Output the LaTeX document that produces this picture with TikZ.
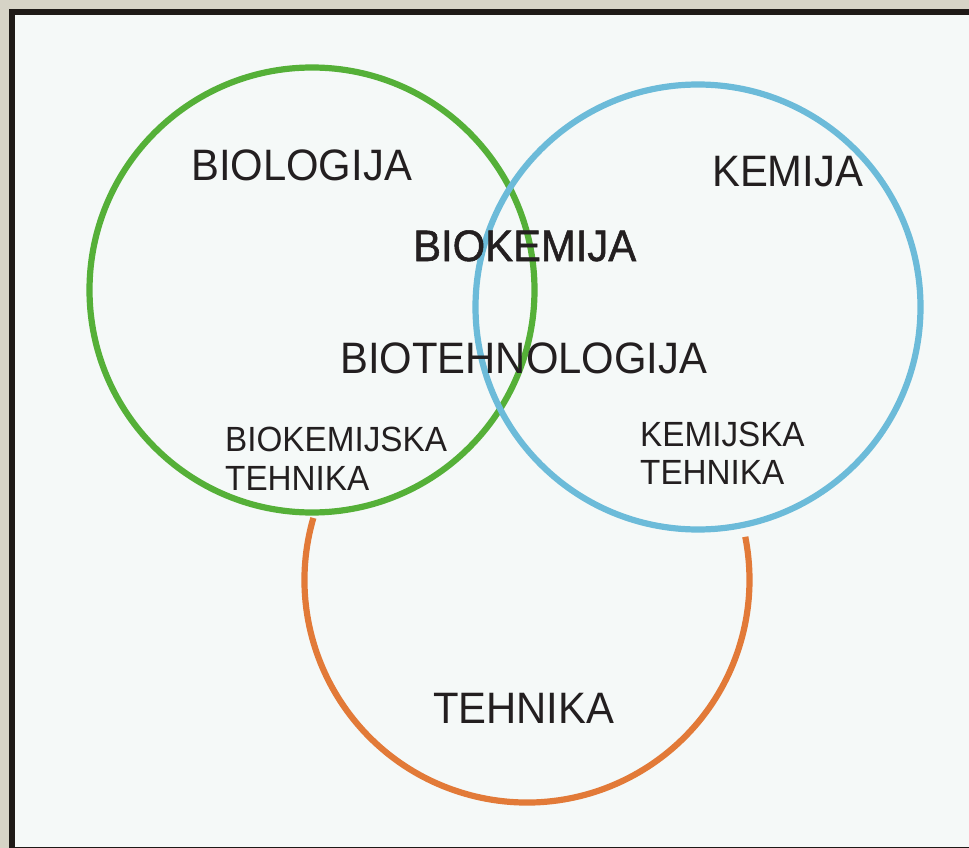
\documentclass[tikz,border=0pt]{standalone}
\usepackage{fontspec}
\setmainfont{Liberation Sans}[FakeStretch=0.95]
\newfontfamily\heavyfont{Liberation Sans}[FakeStretch=0.95,FakeBold=1.2]
\definecolor{bgbeige}{HTML}{D6D3C6}
\definecolor{panelfill}{HTML}{F5F9F8}
\definecolor{panelline}{HTML}{1E1A17}
\definecolor{biogreen}{HTML}{55B038}
\definecolor{chemblue}{HTML}{6CBBD9}
\definecolor{techorange}{HTML}{E27A38}
\definecolor{txt}{HTML}{231F20}
\tikzset{
  ring/.style={circle, draw, line width=6.2pt, minimum size=445pt, inner sep=0pt},
  bigtxt/.style={anchor=base west, inner sep=0pt, text=txt, font=\fontsize{44}{44}\selectfont},
  smalltxt/.style={anchor=base west, inner sep=0pt, text=txt, font=\fontsize{35}{38.5}\selectfont},
}
\begin{document}
\begin{tikzpicture}[x=1pt,y=-1pt]
\useasboundingbox (0,0) rectangle (969,848);
\fill[bgbeige] (0,0) rectangle (969,848);
\draw[panelline, line width=6pt, fill=panelfill] (12,12) rectangle (990,850);
\node[ring, draw=biogreen] (bio) at (312,290) {};
\node[ring, draw=chemblue] (chem) at (698,307) {};
\coordinate (tech) at (527,580);
\draw[techorange, line width=6.2pt] (tech) ++(196.2:222.5) arc[start angle=196.2, end angle=-11.2, radius=222.5];
\node[bigtxt] (biologija) at (191,180) {BIOLOGIJA};
\node[bigtxt] (kemija) at (712,186) {KEMIJA};
\node[bigtxt, font=\fontsize{44}{44}\heavyfont] (biokemija) at (413,261) {BIOKEMIJA};
\node[bigtxt] (biotehnologija) at (340,373) {BIOTEHNOLOGIJA};
\node[bigtxt] (tehnika) at (433,723) {TEHNIKA};
\node[smalltxt] (biokemtechA) at (225,451) {BIOKEMIJSKA};
\node[smalltxt] (biokemtechB) at (225,490) {TEHNIKA};
\node[smalltxt] (kemtechA) at (640,446) {KEMIJSKA};
\node[smalltxt] (kemtechB) at (640,484) {TEHNIKA};
\end{tikzpicture}
\end{document}
